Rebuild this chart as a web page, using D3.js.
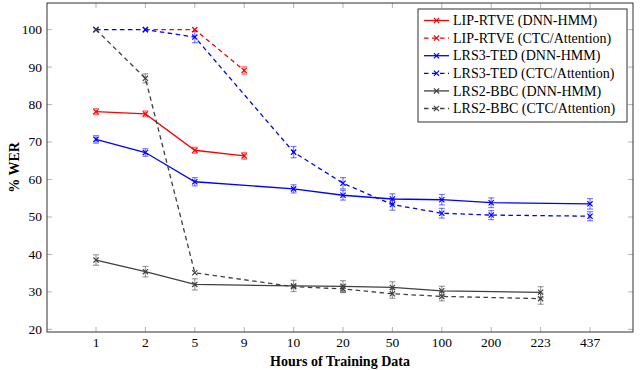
<!DOCTYPE html>
<html lang="en">
<head>
<meta charset="UTF-8">
<title>WER vs hours</title>
<style>
  body { margin: 0; background: #fff; }
</style>
</head>
<body>
<div id="root"></div>
<script src="https://d3js.org/d3.v7.min.js"></script>
<script>
// categories on the x axis
const hours = ["1", "2", "5", "9", "10", "20", "50", "100", "200", "223", "437"]
const yTicks = [20, 30, 40, 50, 60, 70, 80, 90, 100]

// LIP-RTVE
const lipDnnHours = ["1", "2", "5", "9"]
const lipDnnWer = [78.1, 77.5, 67.8, 66.3]
const lipDnnErr = [0.8, 0.8, 0.8, 0.9]
const lipCtcHours = ["2", "5", "9"]
const lipCtcWer = [100, 100, 89.1]
const lipCtcErr = [0, 0, 1.0]

// LRS3-TED
const lrs3DnnHours = ["1", "2", "5", "10", "20", "50", "100", "200", "437"]
const lrs3DnnWer = [70.7, 67.2, 59.4, 57.5, 55.8, 54.8, 54.6, 53.8, 53.5]
const lrs3DnnErr = [1.0, 1.0, 1.1, 1.1, 1.3, 1.4, 1.4, 1.3, 1.4]
const lrs3CtcHours = ["1", "2", "5", "10", "20", "50", "100", "200", "437"]
const lrs3CtcWer = [100, 100, 98, 67.3, 59, 53.3, 51, 50.5, 50.2]
const lrs3CtcErr = [0, 0, 1.5, 1.5, 1.5, 1.5, 1.3, 1.2, 1.2]

// LRS2-BBC
const lrs2DnnHours = ["1", "2", "5", "10", "20", "50", "100", "223"]
const lrs2DnnWer = [38.5, 35.4, 32.0, 31.6, 31.5, 31.2, 30.3, 29.9]
const lrs2DnnErr = [1.4, 1.4, 1.5, 1.5, 1.5, 1.5, 1.2, 1.5]
const lrs2CtcHours = ["1", "2", "5", "10", "20", "50", "100", "223"]
const lrs2CtcWer = [100, 87, 35.1, 31.4, 30.8, 29.5, 28.8, 28.2]
const lrs2CtcErr = [0, 1.2, 0, 0, 1.0, 1.2, 1.2, 1.5]

const series = [
  {name: "LIP-RTVE (DNN-HMM)", color: "#ff0000", dashed: false, x: lipDnnHours, y: lipDnnWer, e: lipDnnErr},
  {name: "LIP-RTVE (CTC/Attention)", color: "#ff0000", dashed: true, x: lipCtcHours, y: lipCtcWer, e: lipCtcErr},
  {name: "LRS3-TED (DNN-HMM)", color: "#0000ff", dashed: false, x: lrs3DnnHours, y: lrs3DnnWer, e: lrs3DnnErr},
  {name: "LRS3-TED (CTC/Attention)", color: "#0000ff", dashed: true, x: lrs3CtcHours, y: lrs3CtcWer, e: lrs3CtcErr},
  {name: "LRS2-BBC (DNN-HMM)", color: "#404040", dashed: false, x: lrs2DnnHours, y: lrs2DnnWer, e: lrs2DnnErr},
  {name: "LRS2-BBC (CTC/Attention)", color: "#404040", dashed: true, x: lrs2CtcHours, y: lrs2CtcWer, e: lrs2CtcErr}
]

const W = 640, H = 370
const plotL = 47, plotR = 633, plotT = 3, plotB = 332
const serif = "'Liberation Serif', 'Times New Roman', Times, 'DejaVu Serif', serif"

const svg = d3.select("#root").append("svg")
  .attr("width", W)
  .attr("height", H)
  .attr("font-family", serif)
  .style("font-family", serif)

const xScale = d3.scalePoint()
  .domain(hours)
  .range([96, 590])

const yScale = d3.scaleLinear()
  .domain([19.3, 107.1])
  .range([plotB, plotT])

// tick marks (inward, on all four sides)
const tickG = svg.append("g").attr("stroke", "#a0a0a0").attr("stroke-width", 0.8)
hours.forEach(h => {
  const x = xScale(h)
  tickG.append("line").attr("x1", x).attr("x2", x).attr("y1", plotB).attr("y2", plotB - 5)
  tickG.append("line").attr("x1", x).attr("x2", x).attr("y1", plotT).attr("y2", plotT + 5)
})
yTicks.forEach(t => {
  const y = yScale(t)
  tickG.append("line").attr("x1", plotL).attr("x2", plotL + 5).attr("y1", y).attr("y2", y)
  tickG.append("line").attr("x1", plotR).attr("x2", plotR - 5).attr("y1", y).attr("y2", y)
})

// tick labels
svg.append("g").selectAll("text").data(hours).join("text")
  .attr("x", d => xScale(d))
  .attr("y", plotB + 15)
  .attr("text-anchor", "middle")
  .attr("font-size", 13.5)
  .text(d => d)

svg.append("g").selectAll("text").data(yTicks).join("text")
  .attr("x", plotL - 5)
  .attr("y", d => yScale(d))
  .attr("dy", "0.33em")
  .attr("text-anchor", "end")
  .attr("font-size", 13.5)
  .text(d => d)

// frame
svg.append("rect")
  .attr("x", plotL).attr("y", plotT)
  .attr("width", plotR - plotL).attr("height", plotB - plotT)
  .attr("fill", "none").attr("stroke", "#303030").attr("stroke-width", 1)

const line = d3.line()

function drawMark(g, x, y, color) {
  const s = 2.6
  g.append("path")
    .attr("d", `M${x - s},${y - s}L${x + s},${y + s}M${x - s},${y + s}L${x + s},${y - s}`)
    .attr("stroke", color).attr("stroke-width", 1.2).attr("fill", "none")
}

const plotG = svg.append("g")
series.forEach(s => {
  const g = plotG.append("g")
  const pts = s.x.map((h, i) => [xScale(h), yScale(s.y[i])])
  g.append("path")
    .attr("d", line(pts))
    .attr("fill", "none")
    .attr("stroke", s.color)
    .attr("stroke-width", 1.3)
    .attr("stroke-dasharray", s.dashed ? "4.5,3.5" : null)
  // error bars
  s.x.forEach((h, i) => {
    if (!s.e[i]) return
    const x = xScale(h)
    const y0 = yScale(s.y[i] - s.e[i]), y1 = yScale(s.y[i] + s.e[i])
    const eg = g.append("g").attr("stroke", s.color).attr("stroke-opacity", 0.5).attr("stroke-width", 1.2)
    eg.append("line").attr("x1", x).attr("x2", x).attr("y1", y0).attr("y2", y1)
    eg.append("line").attr("x1", x - 3).attr("x2", x + 3).attr("y1", y0).attr("y2", y0)
    eg.append("line").attr("x1", x - 3).attr("x2", x + 3).attr("y1", y1).attr("y2", y1)
  })
  pts.forEach(p => drawMark(g, p[0], p[1], s.color))
})

// legend
const lg = svg.append("g").attr("transform", "translate(418, 9)")
lg.append("rect")
  .attr("width", 209).attr("height", 113)
  .attr("fill", "#fff").attr("stroke", "#303030").attr("stroke-width", 1)
series.forEach((s, i) => {
  const y = 11.5 + i * 17.6
  lg.append("line")
    .attr("x1", 6).attr("x2", 31).attr("y1", y).attr("y2", y)
    .attr("stroke", s.color).attr("stroke-width", 1.3)
    .attr("stroke-dasharray", s.dashed ? "4.5,3.5" : null)
  drawMark(lg, 18.5, y, s.color)
  lg.append("text")
    .attr("x", 35).attr("y", y)
    .attr("dy", "0.33em")
    .attr("font-size", 14)
    .text(s.name)
})

// axis titles
svg.append("text")
  .attr("x", (plotL + plotR) / 2)
  .attr("y", 366)
  .attr("text-anchor", "middle")
  .attr("font-size", 14)
  .attr("font-weight", "bold")
  .text("Hours of Training Data")

svg.append("text")
  .attr("transform", `translate(19, ${(plotT + plotB) / 2}) rotate(-90)`)
  .attr("text-anchor", "middle")
  .attr("font-size", 14)
  .attr("font-weight", "bold")
  .text("% WER")
</script>
</body>
</html>
